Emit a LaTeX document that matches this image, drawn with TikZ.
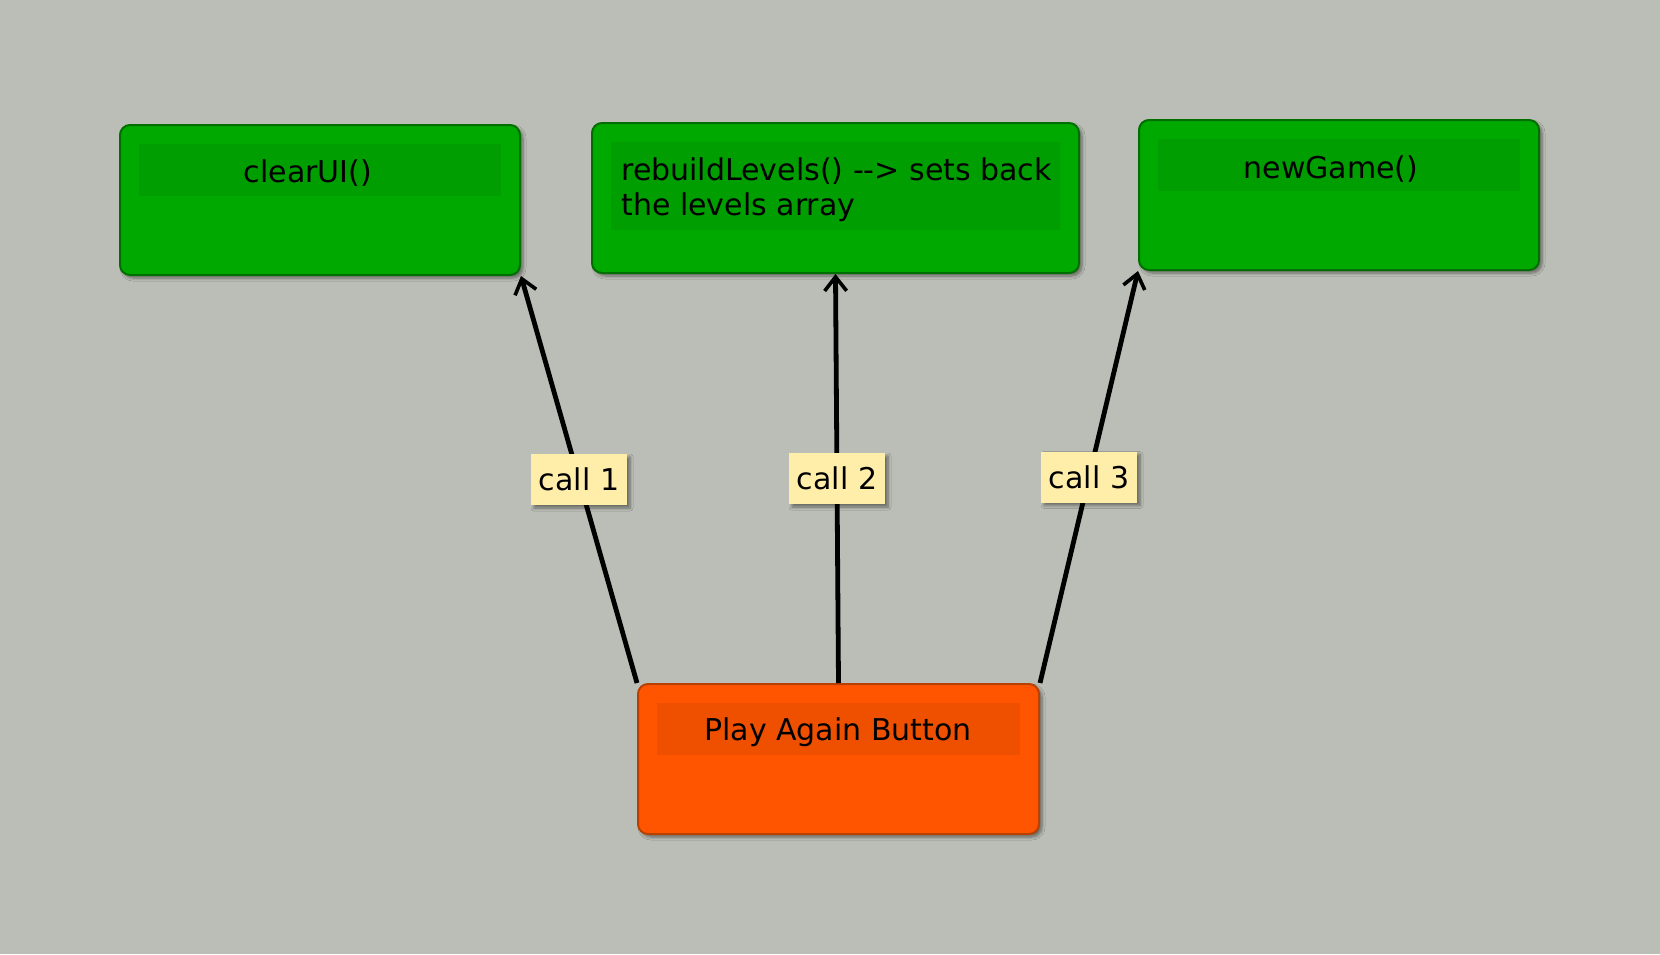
\documentclass[tikz,border=0pt]{standalone}
\usepackage{fontspec}
\setmainfont{DejaVu Sans}
\usetikzlibrary{arrows.meta,shadows.blur}
\definecolor{bggray}{HTML}{BBBEB6}
\definecolor{boxgreen}{HTML}{00A900}
\definecolor{headgreen}{HTML}{009E00}
\definecolor{edgegreen}{HTML}{006E00}
\definecolor{boxorange}{HTML}{FF5500}
\definecolor{headorange}{HTML}{EE5000}
\definecolor{edgeorange}{HTML}{B84000}
\definecolor{notecolor}{HTML}{FFEEAA}
\tikzset{
  boxshadow/.style={blur shadow={shadow xshift=1.5pt,shadow yshift=-1.5pt,shadow blur steps=6,shadow blur radius=1.5pt,shadow opacity=45}},
  funcbox/.style={boxshadow,draw=edgegreen,fill=boxgreen,line width=1pt,rounded corners=5pt,minimum height=75pt},
  buttonbox/.style={boxshadow,draw=edgeorange,fill=boxorange,line width=1pt,rounded corners=5pt,minimum height=75pt},
  boxtext/.style={font=\fontsize{15}{17.5}\selectfont,inner sep=0pt},
  calllabel/.style={boxshadow,fill=notecolor,font=\fontsize{15}{17}\selectfont,minimum width=48pt,minimum height=25.5pt,inner sep=0pt},
  callarrow/.style={line width=2.4pt,-{Straight Barb[length=7pt,width=11pt,line width=1.8pt]}}
}
\begin{document}
\begin{tikzpicture}[x=0.5pt,y=-0.5pt]
  \fill[bggray] (0,0) rectangle (1660,954);
  \useasboundingbox (0,0) rectangle (1660,954);
  % the three functions
  \node[funcbox,minimum width=200pt] (clear) at (320,200) {};
  \fill[headgreen] ([xshift=10pt,yshift=-10pt]clear.north west) rectangle ([xshift=-10pt,yshift=-36pt]clear.north east);
  \node[boxtext,anchor=base] (cleartext) at (308,182) {clearUI()};
  \node[funcbox,minimum width=243.5pt] (rebuild) at (835.5,198) {};
  \fill[headgreen] ([xshift=10pt,yshift=-10pt]rebuild.north west) rectangle ([xshift=-10pt,yshift=-54pt]rebuild.north east);
  \node[boxtext,anchor=north west,align=left] (rebuildtext) at (621,157) {rebuildLevels() -{}-> sets back\\the levels array};
  \node[funcbox,minimum width=200pt] (newgame) at (1339,195) {};
  \fill[headgreen] ([xshift=10pt,yshift=-10pt]newgame.north west) rectangle ([xshift=-10pt,yshift=-36pt]newgame.north east);
  \node[boxtext,anchor=base] (newgametext) at (1331,178) {newGame()};
  % the button
  \node[buttonbox,minimum width=200.5pt] (play) at (838.5,759) {};
  \fill[headorange] ([xshift=10pt,yshift=-10pt]play.north west) rectangle ([xshift=-10pt,yshift=-36pt]play.north east);
  \node[boxtext,anchor=base] (playtext) at (838,740) {Play Again Button};
  % calls
  \draw[callarrow] (play.north west) -- node[calllabel] (call1) {call 1} (clear.south east);
  \draw[callarrow] (play.north) -- node[calllabel] (call2) {call 2} (rebuild.south);
  \draw[callarrow] (play.north east) -- node[calllabel] (call3) {call 3} (newgame.south west);
\end{tikzpicture}
\end{document}
